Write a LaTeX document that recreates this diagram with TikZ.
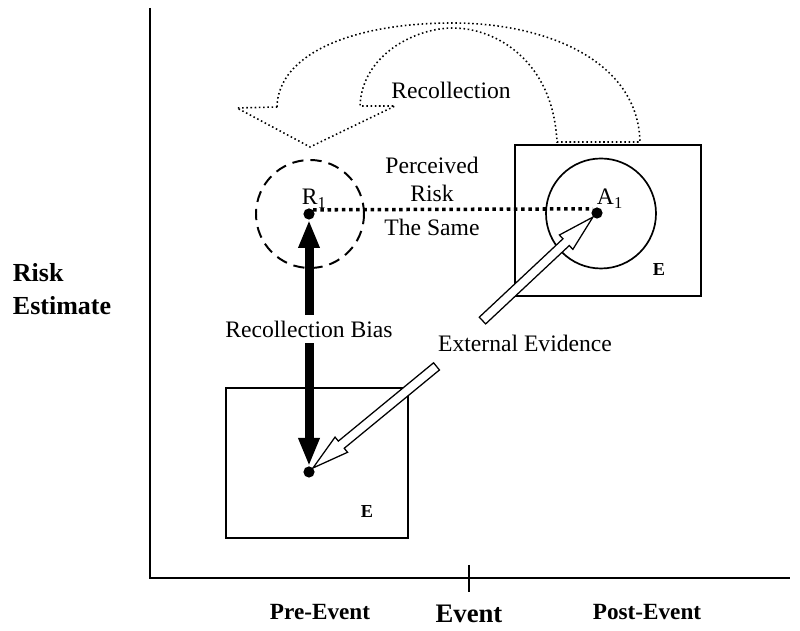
\documentclass[tikz,border=0pt]{standalone}
\usepackage{fontspec}
\setmainfont{Liberation Serif}
\usetikzlibrary{calc,arrows.meta,shapes.arrows}
\tikzset{
	dot/.style={circle, fill=black, inner sep=0pt, minimum size=0.28cm},
	txt/.style={font=\fontsize{16.8}{20}\selectfont},
	boldtxt/.style={font=\fontsize{16.5}{20}\selectfont\bfseries},
	hollow/.style={single arrow, draw, fill=white, line width=0.9pt, inner sep=0.1cm, single arrow head extend=0.13cm, single arrow tip angle=30},
	recall/.style={line width=1.1pt, dash pattern=on 1.1pt off 1.9pt},
}
\def\hollowarrow(#1)(#2){\path let \p1=($(#2)-(#1)$), \n1={atan2(\y1,\x1)}, \n2={veclen(\x1,\y1)} in node[hollow, rotate=\n1, minimum height=\n2, anchor=tail] at (#1) {};}

\begin{document}
\begin{tikzpicture}
	%%%%% START %%%%%
	\useasboundingbox (0, 0) rectangle (20, 15.775);
	
	\draw[line width=1.2pt] (3.75, 15.575) -- (3.75, 1.325) -- (19.75, 1.325);
	\draw[line width=1.2pt] (11.725, 1.65) -- (11.725, 0.975);
	
	\node[boldtxt] (pre) at (8, 0.475) {Pre-Event};
	\node[boldtxt, font=\fontsize{19}{20}\selectfont\bfseries] (event) at (11.725, 0.425) {Event};
	\node[boldtxt] (post) at (16.175, 0.475) {Post-Event};
	\node[boldtxt, font=\fontsize{18.5}{23.5}\selectfont\bfseries, align=left, anchor=west] (risk) at (0.2, 8.55) {Risk\\Estimate};
	
	% recollection (dotted hollow arrow)
	\draw[recall] (6.925, 13.1) .. controls (6.95, 14.4) and (8.75, 15.2) .. (11.325, 15.2) .. controls (13.625, 15.2) and (15.95, 14.275) .. (16, 12.225) -- (13.925, 12.225) .. controls (13.825, 14.275) and (12.375, 15.075) .. (11.325, 15.075) .. controls (10.375, 15.075) and (9.05, 14.4) .. (9, 13.125) -- (9.875, 13.125) -- (7.75, 12.1) -- (5.925, 13.075) -- cycle;
	\node[txt] (recall) at (11.275, 13.525) {Recollection};
	
	\draw[line width=1pt] (5.65, 6.075) rectangle (10.2, 2.325);
	\draw[line width=1pt] (12.875, 12.15) rectangle (17.525, 8.375);
	
	\draw[line width=1.4pt, dash pattern=on 8pt off 5pt] (7.75, 10.425) circle (1.35);
	\draw[line width=1.2pt] (15.025, 10.4375) circle (1.375);
	
	\node[dot] (r1) at (7.725, 10.425) {};
	\node[dot] (a1) at (14.925, 10.45) {};
	\node[dot] (lo) at (7.725, 3.975) {};
	\node[txt, anchor=base west] (r1lab) at (7.425, 10.65) {R\textsubscript{1}};
	\node[txt, anchor=base west] (a1lab) at (14.8, 10.65) {A\textsubscript{1}};
	
	\node[boldtxt, font=\fontsize{13}{15}\selectfont\bfseries] (e1) at (16.475, 9.025) {E};
	\node[boldtxt, font=\fontsize{13}{15}\selectfont\bfseries] (e2) at (9.175, 2.975) {E};
	
	% perceived risk the same
	\draw[line width=2.5pt, dash pattern=on 2.5pt off 2.6pt] (r1.north east) -- (a1.north west);
	\node[txt, align=center] (perc) at (10.8, 11.3) {Perceived\\Risk};
	\node[txt] (same) at (10.8, 10.1) {The Same};
	
	% recollection bias
	\draw[line width=6.4pt, {Triangle[width=14pt,length=20pt]}-{Triangle[width=14pt,length=20pt]}] (lo.north) -- node[pos=0.556, txt, fill=white, inner xsep=1pt, inner ysep=4pt] (bias) {Recollection Bias} (r1.south);
	
	% external evidence
	\coordinate (ev1) at (12.05, 7.75);
	\coordinate (ev2) at (10.925, 6.625);
	\hollowarrow(ev1)(a1.south west)
	\hollowarrow(ev2)(lo.north east)
	\node[txt] (ext) at (13.125, 7.2) {External Evidence};
	
	%%%%% END %%%%%
\end{tikzpicture}
\end{document}
